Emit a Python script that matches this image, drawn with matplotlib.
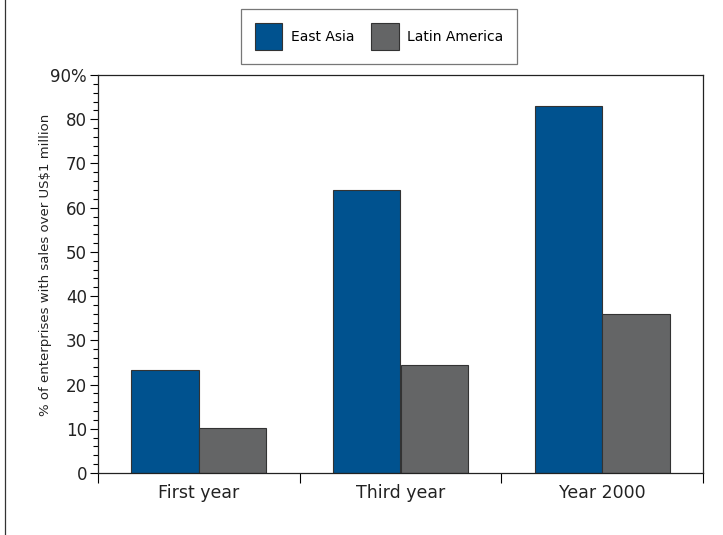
import matplotlib
matplotlib.use("Agg")
import matplotlib.pyplot as plt
import numpy as np
from matplotlib.ticker import MultipleLocator, FixedLocator

plt.rcParams['font.family'] = ['DejaVu Sans']

# data
categories = ['First year', 'Third year', 'Year 2000']
east_asia = [23.2, 64, 83]
latin_america = [10.2, 24.5, 36]
series_names = ['East Asia', 'Latin America']
y_ticks = [0, 10, 20, 30, 40, 50, 60, 70, 80, 90]
y_tick_labels = ['0', '10', '20', '30', '40', '50', '60', '70', '80', '90%']

blue = '#00528f'
grey = '#646566'
ink = '#222222'

fig = plt.figure(figsize=(7.23, 5.35), dpi=100)
ax = fig.add_axes([98 / 723, 1 - 473 / 535, 605 / 723, 398 / 535])

x = np.arange(len(categories))
w = 0.335
b1 = ax.bar(x - w / 2, east_asia, w, color=blue, edgecolor='#333333', linewidth=0.8, label=series_names[0])
b2 = ax.bar(x + w / 2, latin_america, w, color=grey, edgecolor='#333333', linewidth=0.8, label=series_names[1])

ax.set_xlim(-0.5, len(categories) - 0.5)
ax.set_ylim(0, 90)

# y axis ticks
ax.set_yticks(y_ticks)
ax.set_yticklabels(y_tick_labels, fontsize=12, color=ink)
ax.yaxis.set_minor_locator(MultipleLocator(2))
ax.tick_params(axis='y', which='major', length=6, width=0.8, direction='out', pad=2)
ax.tick_params(axis='y', which='minor', length=3.5, width=0.8, direction='out')

# x axis: ticks at group boundaries, labels at centres
ax.xaxis.set_major_locator(FixedLocator(np.arange(-0.5, len(categories), 1.0)))
ax.xaxis.set_minor_locator(FixedLocator(x))
ax.set_xticklabels([])
ax.set_xticklabels(categories, minor=True, fontsize=12.5, color=ink)
ax.tick_params(axis='x', which='major', length=7, width=0.8, direction='out')
ax.tick_params(axis='x', which='minor', length=0, pad=8)

for s in ax.spines.values():
    s.set_linewidth(0.9)
    s.set_color(ink)

ax.set_ylabel('% of enterprises with sales over US$1 million', fontsize=9.5, color=ink)
ax.yaxis.set_label_coords(-0.076, 0.523)

leg = fig.legend(handles=[b1, b2], loc='center', bbox_to_anchor=(379 / 723, 1 - 36.5 / 535), ncol=2,
                 fontsize=10, frameon=True, fancybox=False, edgecolor='#555555',
                 handlelength=2.0, handleheight=2.7, columnspacing=1.2, handletextpad=0.6,
                 borderpad=0.95, borderaxespad=0)
leg.get_frame().set_linewidth(0.9)

# left frame line from the original page
fig.add_artist(plt.Line2D([5 / 723, 5 / 723], [0, 1], color='#333333', linewidth=0.9, transform=fig.transFigure))

fig.savefig('out.png', dpi=100)
